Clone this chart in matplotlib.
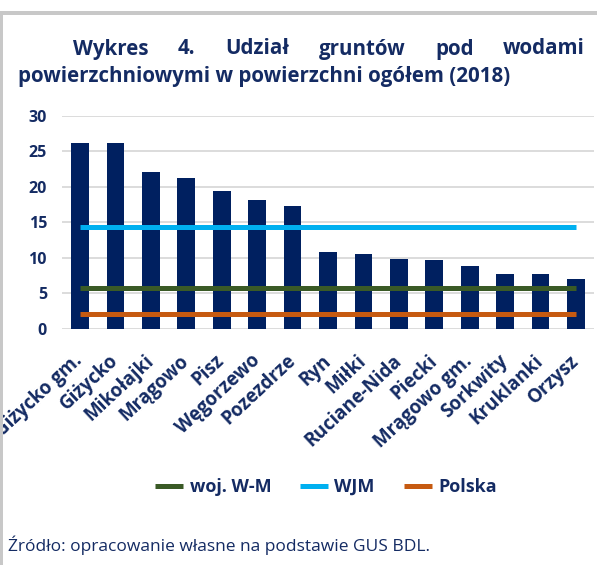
import matplotlib
matplotlib.use("Agg")
import matplotlib.pyplot as plt
from matplotlib.patches import Rectangle

categories = ["Giżycko gm.", "Giżycko", "Mikołajki", "Mrągowo", "Pisz", "Węgorzewo",
              "Pozezdrze", "Ryn", "Miłki", "Ruciane-Nida", "Piecki", "Mrągowo gm.",
              "Sorkwity", "Kruklanki", "Orzysz"]
values = [26.2, 26.1, 22.1, 21.3, 19.4, 18.1, 17.3, 10.9, 10.6, 9.9, 9.7, 8.8, 7.8, 7.7, 7.1]
woj_wm = 5.7
wjm = 14.3
polska = 2.1
yticks = [0, 5, 10, 15, 20, 25, 30]

NAVY = "#002060"
TXT = "#142B63"
plt.rcParams['font.family'] = ['Open Sans', 'DejaVu Sans']

W, H = 597, 565
fig = plt.figure(figsize=(W / 100, H / 100), dpi=100)
fig.patch.set_facecolor("white")

ax = fig.add_axes([62.3 / W, 1 - 329 / H, 531.4 / W, 213.3 / H])
x = list(range(len(categories)))
ax.bar(x, values, width=0.5, color=NAVY, zorder=2)
ax.plot([x[0], x[-1]], [wjm, wjm], color="#00B0F0", lw=3.6, solid_capstyle="butt", zorder=3, label="WJM")
ax.plot([x[0], x[-1]], [woj_wm, woj_wm], color="#3A5A26", lw=3.6, solid_capstyle="butt", zorder=3, label="woj. W-M")
ax.plot([x[0], x[-1]], [polska, polska], color="#C65A11", lw=3.6, solid_capstyle="butt", zorder=3, label="Polska")

ax.set_xlim(-0.5, len(categories) - 0.5)
ax.set_ylim(0, 30)
ax.set_yticks(yticks)
ax.set_yticklabels([str(v) for v in yticks], fontsize=11.5, fontweight="bold", color=TXT)
ax.grid(axis="y", color="#D9D9D9", lw=1.3, zorder=0)
for s in ax.spines.values():
    s.set_visible(False)
ax.tick_params(axis="y", length=0, pad=11)
ax.tick_params(axis="x", length=0, pad=21)
ax.set_xticks(x)
ax.set_xticklabels(categories, rotation=43, ha="right", va="center", rotation_mode="anchor",
                   fontsize=13.5, fontweight="bold", color=TXT)

handles, labels = ax.get_legend_handles_labels()
order = [1, 0, 2]
leg = fig.legend([handles[i] for i in order], [labels[i] for i in order],
                 loc="center", bbox_to_anchor=(326 / W, 1 - 487 / H), ncol=3, frameon=False,
                 prop={"size": 13, "weight": "bold"}, handlelength=1.55, handletextpad=0.35,
                 columnspacing=1.6)
for t in leg.get_texts():
    t.set_color(TXT)

# title - first line justified with indent
words1 = ["Wykres", "4.", "Udział", "gruntów", "pod", "wodami"]
fig.canvas.draw()
r = fig.canvas.get_renderer()
tmp = []
for w in words1:
    t = fig.text(0, 0, w, fontsize=14.8, fontweight="bold", color=TXT)
    tmp.append(t)
widths = [t.get_window_extent(r).width for t in tmp]
x0, x1 = 73.0, 585.0
gap = (x1 - x0 - sum(widths)) / (len(words1) - 1)
cx = x0
for t, wd in zip(tmp, widths):
    t.set_position((cx / W, 1 - 54.5 / H))
    cx += wd + gap
fig.text(18 / W, 1 - 82 / H, "powierzchniowymi w powierzchni ogółem (2018)", fontsize=14.8,
         fontweight="bold", color=TXT)

fig.text(8 / W, 1 - 551 / H, "Źródło: opracowanie własne na podstawie GUS BDL.", fontsize=12.5,
         color=TXT)

# grey frame (drawn on top so labels are clipped at the left edge)
fig.patches.append(Rectangle((0, 1 - 15 / H), 1, 4 / H, transform=fig.transFigure,
                             facecolor="#C8C8C8", edgecolor="none", zorder=10))
fig.patches.append(Rectangle((0, 0), 3 / W, 1 - 15 / H, transform=fig.transFigure,
                             facecolor="#C8C8C8", edgecolor="none", zorder=10))

fig.savefig("out.png", dpi=100)
